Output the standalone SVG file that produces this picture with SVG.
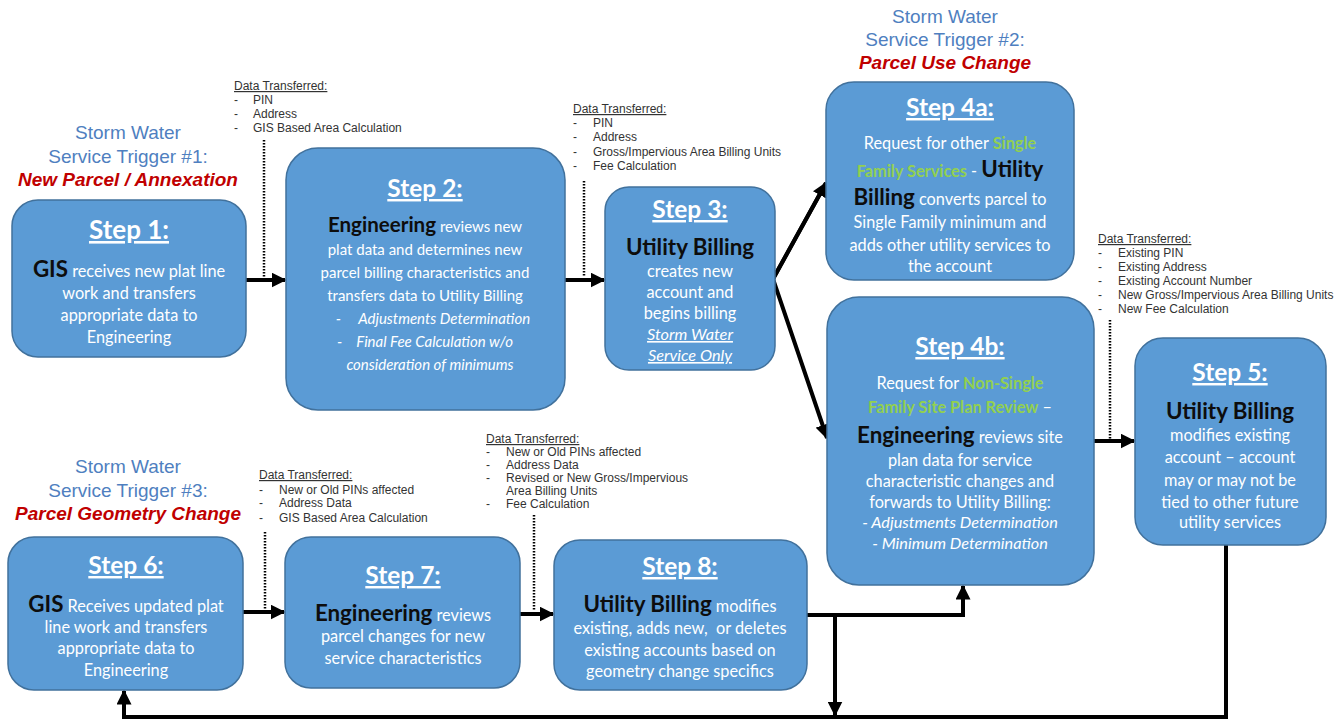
<svg xmlns="http://www.w3.org/2000/svg" width="1342" height="721" viewBox="0 0 1342 721">
<defs>
<marker id="ah" viewBox="0 0 10 10" refX="9" refY="5" markerWidth="15" markerHeight="15" markerUnits="userSpaceOnUse" orient="auto"><path d="M0,0 L10,5 L0,10 z" fill="#000"/></marker>
</defs>
<style>
.box{fill:#5b9bd5;stroke:#41719c;stroke-width:1.5}
.h{font-family:Lato,"Open Sans",sans-serif;font-weight:bold;font-size:24.5px;fill:#fff;text-decoration:underline;text-anchor:middle}
.t{font-family:Lato,"Open Sans",sans-serif;font-size:16.3px;fill:#fff;text-anchor:middle}
.s{font-size:15px}
.k{font-weight:bold;fill:#0d0d0d;font-size:1.37em}
.g{font-weight:bold;fill:#92d050}
.i{font-style:italic}
.tr{font-family:"Liberation Sans",Arial,sans-serif;font-size:19px;fill:#4f7fc0;text-anchor:middle}
.red{fill:#c00000;font-weight:bold;font-style:italic}
.dt{font-family:"Liberation Sans",Arial,sans-serif;font-size:12px;fill:#333}
.u{text-decoration:underline}
.dot{stroke:#000;stroke-width:2.5;stroke-dasharray:1.5 1.5;fill:none}
.c{stroke:#000;stroke-width:4;fill:none}
</style>

<g id="trigger1">
<text class="tr" x="128" y="139">Storm Water</text>
<text class="tr" x="128" y="163">Service Trigger #1:</text>
<text class="tr red" x="128" y="186">New Parcel / Annexation</text>
</g>
<g id="trigger2">
<text class="tr" x="945" y="23">Storm Water</text>
<text class="tr" x="945" y="46">Service Trigger #2:</text>
<text class="tr red" x="945" y="69">Parcel Use Change</text>
</g>
<g id="trigger3">
<text class="tr" x="128" y="473">Storm Water</text>
<text class="tr" x="128" y="497">Service Trigger #3:</text>
<text class="tr red" x="128" y="520">Parcel Geometry Change</text>
</g>

<g id="data1" class="dt">
<text x="234" y="90" class="u">Data Transferred:</text>
<text x="234" y="104">-</text><text x="253" y="104">PIN</text>
<text x="234" y="118">-</text><text x="253" y="118">Address</text>
<text x="234" y="132">-</text><text x="253" y="132">GIS Based Area Calculation</text>
</g>
<g id="data2" class="dt">
<text x="573" y="113" class="u">Data Transferred:</text>
<text x="573" y="127">-</text><text x="593" y="127">PIN</text>
<text x="573" y="141">-</text><text x="593" y="141">Address</text>
<text x="573" y="156">-</text><text x="593" y="156">Gross/Impervious Area Billing Units</text>
<text x="573" y="170">-</text><text x="593" y="170">Fee Calculation</text>
</g>
<g id="data3" class="dt">
<text x="1098" y="243" class="u">Data Transferred:</text>
<text x="1098" y="257">-</text><text x="1118" y="257">Existing PIN</text>
<text x="1098" y="271">-</text><text x="1118" y="271">Existing Address</text>
<text x="1098" y="285">-</text><text x="1118" y="285">Existing Account Number</text>
<text x="1098" y="299">-</text><text x="1118" y="299">New Gross/Impervious Area Billing Units</text>
<text x="1098" y="313">-</text><text x="1118" y="313">New Fee Calculation</text>
</g>
<g id="data4" class="dt">
<text x="259" y="479" class="u">Data Transferred:</text>
<text x="259" y="494">-</text><text x="279" y="494">New or Old PINs affected</text>
<text x="259" y="507">-</text><text x="279" y="507">Address Data</text>
<text x="259" y="522">-</text><text x="279" y="522">GIS Based Area Calculation</text>
</g>
<g id="data5" class="dt">
<text x="486" y="443" class="u">Data Transferred:</text>
<text x="486" y="456">-</text><text x="506" y="456">New or Old PINs affected</text>
<text x="486" y="469">-</text><text x="506" y="469">Address Data</text>
<text x="486" y="482">-</text><text x="506" y="482">Revised or New Gross/Impervious</text>
<text x="506" y="495">Area Billing Units</text>
<text x="486" y="508">-</text><text x="506" y="508">Fee Calculation</text>
</g>

<g id="connectors">
<line class="dot" x1="264" y1="140" x2="264" y2="277"/>
<line class="dot" x1="584" y1="181" x2="584" y2="277"/>
<line class="dot" x1="1110" y1="320" x2="1110" y2="439"/>
<line class="dot" x1="265" y1="532" x2="265" y2="610"/>
<line class="dot" x1="534" y1="515" x2="534" y2="611"/>
<line class="c" x1="246" y1="280" x2="285" y2="280" marker-end="url(#ah)"/>
<line class="c" x1="565" y1="280" x2="604" y2="280" marker-end="url(#ah)"/>
<polyline class="c" points="826,183 773,279 827,438" marker-end="url(#ah)"/>
<line class="c" x1="773" y1="279" x2="826" y2="183" marker-end="url(#ah)"/>
<line class="c" x1="1094" y1="441" x2="1134" y2="441" marker-end="url(#ah)"/>
<line class="c" x1="243" y1="612" x2="284" y2="612" marker-end="url(#ah)"/>
<line class="c" x1="520" y1="614" x2="553" y2="614" marker-end="url(#ah)"/>
<polyline class="c" points="807,615 963,615 963,586" marker-end="url(#ah)"/>
<line class="c" x1="835" y1="615" x2="835" y2="715" marker-end="url(#ah)"/>
<polyline class="c" points="1226,545 1226,717 124,717 124,691" marker-end="url(#ah)"/>
</g>

<g id="step1">
<rect class="box" x="12" y="200" width="234" height="157" rx="26"/>
<text class="h" x="129" y="239" style="font-size:26px">Step 1:</text>
<text class="t" x="129" y="277"><tspan class="k">GIS</tspan> receives new plat line</text>
<text class="t" x="129" y="299">work and transfers</text>
<text class="t" x="129" y="321">appropriate data to</text>
<text class="t" x="129" y="343">Engineering</text>
</g>
<g id="step2">
<rect class="box" x="286" y="148" width="279" height="262" rx="32"/>
<text class="h" x="425" y="197">Step 2:</text>
<text class="t s" x="425" y="232"><tspan class="k">Engineering</tspan> reviews new</text>
<text class="t s" x="425" y="255">plat data and determines new</text>
<text class="t s" x="425" y="278">parcel billing characteristics and</text>
<text class="t s" x="425" y="301">transfers data to Utility Billing</text>
<text class="t s i" x="433" y="324">-&#160;&#160;&#160;&#160; Adjustments Determination</text>
<text class="t s i" x="425" y="347">-&#160;&#160;&#160; Final Fee Calculation w/o</text>
<text class="t s i" x="430" y="370">consideration of minimums</text>
</g>
<g id="step3">
<rect class="box" x="605" y="187" width="170" height="183" rx="24"/>
<text class="h" x="690" y="218">Step 3:</text>
<text class="t" x="690" y="255"><tspan class="k">Utility Billing</tspan></text>
<text class="t" x="690" y="277">creates new</text>
<text class="t" x="690" y="298">account and</text>
<text class="t" x="690" y="319">begins billing</text>
<text class="t i u" x="690" y="340">Storm Water</text>
<text class="t i u" x="690" y="361">Service Only</text>
</g>
<g id="step4a">
<rect class="box" x="826" y="82" width="248" height="198" rx="28"/>
<text class="h" x="950" y="116">Step 4a:</text>
<text class="t" x="950" y="149">Request for other <tspan class="g">Single</tspan></text>
<text class="t" x="950" y="177"><tspan class="g">Family Services</tspan> - <tspan class="k">Utility</tspan></text>
<text class="t" x="950" y="205"><tspan class="k">Billing</tspan> converts parcel to</text>
<text class="t" x="950" y="228">Single Family minimum and</text>
<text class="t" x="950" y="251">adds other utility services to</text>
<text class="t" x="950" y="272">the account</text>
</g>
<g id="step4b">
<rect class="box" x="827" y="297" width="267" height="288" rx="32"/>
<text class="h" x="960" y="355">Step 4b:</text>
<text class="t" x="960" y="389">Request for <tspan class="g">Non-Single</tspan></text>
<text class="t" x="960" y="413"><tspan class="g">Family Site Plan Review</tspan> –</text>
<text class="t" x="960" y="443"><tspan class="k">Engineering</tspan> reviews site</text>
<text class="t" x="960" y="466">plan data for service</text>
<text class="t" x="960" y="487">characteristic changes and</text>
<text class="t" x="960" y="508">forwards to Utility Billing:</text>
<text class="t i" x="960" y="528">- Adjustments Determination</text>
<text class="t i" x="960" y="549">- Minimum Determination</text>
</g>
<g id="step5">
<rect class="box" x="1135" y="338" width="191" height="207" rx="28"/>
<text class="h" x="1230" y="381">Step 5:</text>
<text class="t" x="1230" y="419"><tspan class="k">Utility Billing</tspan></text>
<text class="t" x="1230" y="441">modifies existing</text>
<text class="t" x="1230" y="463">account – account</text>
<text class="t" x="1230" y="486">may or may not be</text>
<text class="t" x="1230" y="508">tied to other future</text>
<text class="t" x="1230" y="528">utility services</text>
</g>
<g id="step6">
<rect class="box" x="8" y="537" width="235" height="153" rx="26"/>
<text class="h" x="126" y="574">Step 6:</text>
<text class="t" x="126" y="612"><tspan class="k">GIS</tspan> Receives updated plat</text>
<text class="t" x="126" y="633">line work and transfers</text>
<text class="t" x="126" y="654">appropriate data to</text>
<text class="t" x="126" y="676">Engineering</text>
</g>
<g id="step7">
<rect class="box" x="285" y="537" width="235" height="151" rx="26"/>
<text class="h" x="403" y="584">Step 7:</text>
<text class="t" x="403" y="621"><tspan class="k">Engineering</tspan> reviews</text>
<text class="t" x="403" y="642">parcel changes for new</text>
<text class="t" x="403" y="664">service characteristics</text>
</g>
<g id="step8">
<rect class="box" x="554" y="540" width="253" height="150" rx="26"/>
<text class="h" x="680" y="575">Step 8:</text>
<text class="t" x="680" y="612"><tspan class="k">Utility Billing</tspan> modifies</text>
<text class="t" x="680" y="634">existing, adds new,&#160; or deletes</text>
<text class="t" x="680" y="656">existing accounts based on</text>
<text class="t" x="680" y="677">geometry change specifics</text>
</g>
</svg>
